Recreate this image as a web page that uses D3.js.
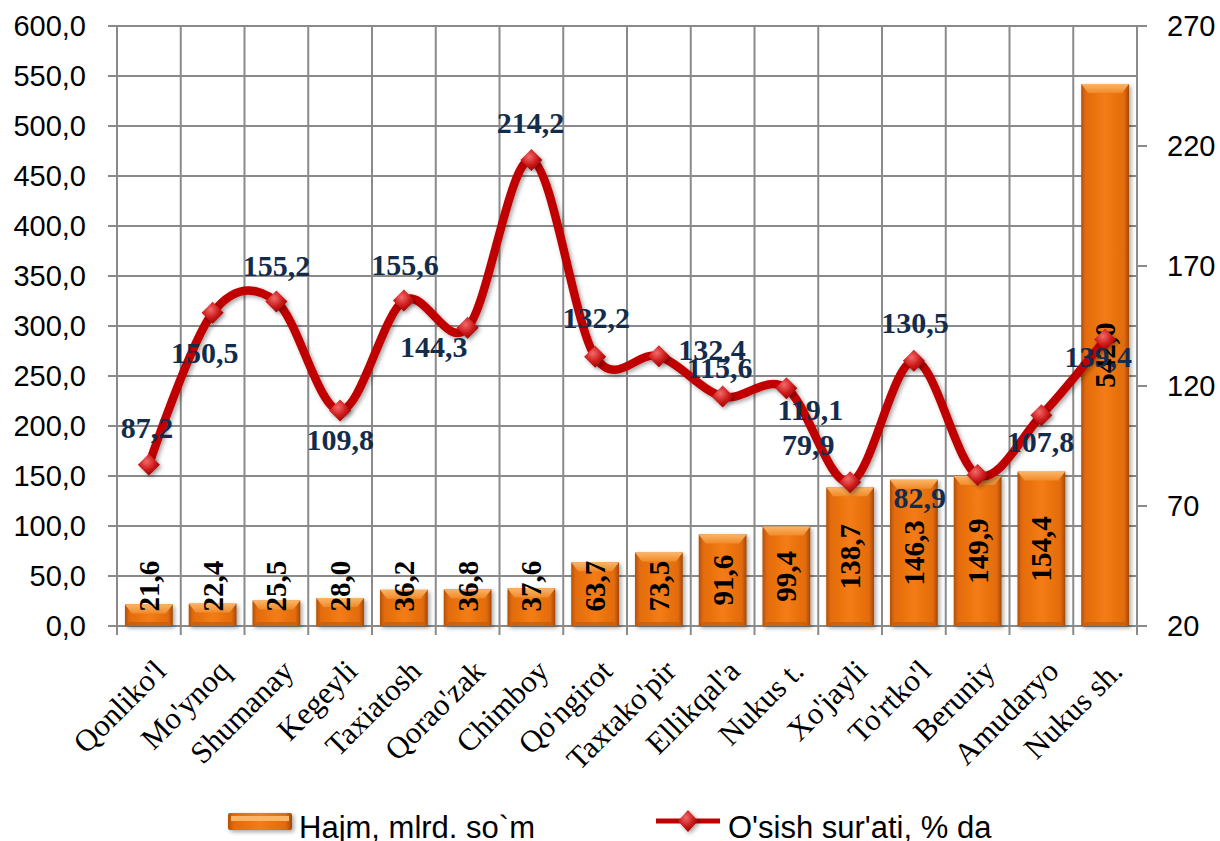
<!DOCTYPE html>
<html>
<head>
<meta charset="utf-8">
<script src="https://cdn.jsdelivr.net/npm/d3@7"></script>
<style>
  html, body { margin: 0; padding: 0; background: #fff; }
  svg { display: block; }
</style>
</head>
<body>
<svg id="chart" width="1220" height="841"></svg>
<script>
// ---- data ----
const categories = ["Qonliko'l", "Mo'ynoq", "Shumanay", "Kegeyli", "Taxiatosh", "Qorao'zak", "Chimboy", "Qo'ngirot", "Taxtako'pir", "Ellikqal'a", "Nukus t.", "Xo'jayli", "To'rtko'l", "Beruniy", "Amudaryo", "Nukus sh."];
const volume = [21.6, 22.4, 25.5, 28.0, 36.2, 36.8, 37.6, 63.7, 73.5, 91.6, 99.4, 138.7, 146.3, 149.9, 154.4, 542.0];
const growth = [87.2, 150.5, 155.2, 109.8, 155.6, 144.3, 214.2, 132.2, 132.4, 115.6, 119.1, 79.9, 130.5, 82.9, 107.8, 139.4];
const leftTicks = [0, 50, 100, 150, 200, 250, 300, 350, 400, 450, 500, 550, 600];
const rightTicks = [20, 70, 120, 170, 220, 270];
const seriesNames = ["Hajm, mlrd. so`m", "O'sish sur'ati, % da"];

// label placement offsets for line labels (relative to marker)
const labelDx = [-2, -8, 0, 0, 1, -34, -1, 1, 53, -3, 24, -42, 1, -58, -1, -7];
const labelDy = [-27, 50, -26, 40, -26, 29, -27, -29, 4, -19, 32, -27, -28, 33, 37, 28];

// ---- layout ----
const M = { left: 117, right: 1137, top: 26, bottom: 626 };
const svg = d3.select("#chart");
const defs = svg.append("defs");

const fmt = v => d3.format(".1f")(v).replace(".", ",");

const x = d3.scaleBand().domain(categories).range([M.left, M.right]).paddingInner(0.25).paddingOuter(0.125);
const yL = d3.scaleLinear().domain([0, 600]).range([M.bottom, M.top]);
const yR = d3.scaleLinear().domain([20, 270]).range([M.bottom, M.top]);

// gradients
const gBar = defs.append("linearGradient").attr("id", "gBar").attr("x1", "0").attr("x2", "1").attr("y1", "0").attr("y2", "0");
[["0%", "#b05005"], ["9%", "#e26b0c"], ["50%", "#f47c14"], ["90%", "#e26b0c"], ["100%", "#a24704"]].forEach(s => gBar.append("stop").attr("offset", s[0]).attr("stop-color", s[1]));
const gTop = defs.append("linearGradient").attr("id", "gTop").attr("x1", "0").attr("x2", "0").attr("y1", "0").attr("y2", "1");
[["0%", "#fbb567"], ["100%", "#f08a2a"]].forEach(s => gTop.append("stop").attr("offset", s[0]).attr("stop-color", s[1]));
const gMark = defs.append("radialGradient").attr("id", "gMark").attr("cx", "40%").attr("cy", "35%").attr("r", "70%");
[["0%", "#f26a6a"], ["55%", "#cc1a1a"], ["100%", "#8e0000"]].forEach(s => gMark.append("stop").attr("offset", s[0]).attr("stop-color", s[1]));
const shadow = defs.append("filter").attr("id", "shadow").attr("x", "-30%").attr("y", "-30%").attr("width", "160%").attr("height", "160%");
shadow.append("feDropShadow").attr("dx", 2).attr("dy", 2).attr("stdDeviation", 2).attr("flood-color", "#000").attr("flood-opacity", 0.35);

const gridColor = "#8a8a8a";

// ---- grid ----
const grid = svg.append("g").attr("stroke", gridColor).attr("stroke-width", 2);
leftTicks.forEach(t => {
  grid.append("line").attr("x1", M.left - 9).attr("x2", t === 600 ? M.right + 10 : M.right)
    .attr("y1", yL(t)).attr("y2", yL(t));
});
rightTicks.forEach(t => {
  grid.append("line").attr("x1", M.right).attr("x2", M.right + 10).attr("y1", yR(t)).attr("y2", yR(t));
});
const step = x.step();
d3.range(categories.length + 1).forEach(i => {
  const xx = M.left + i * step;
  grid.append("line").attr("x1", xx).attr("x2", xx).attr("y1", M.top).attr("y2", M.bottom + 9);
});

// ---- axes labels ----
const axisFont = "'Liberation Sans', Arial, sans-serif";
svg.append("g").selectAll("text").data(leftTicks).join("text")
  .attr("x", 86).attr("y", d => yL(d)).attr("dy", "0.36em")
  .attr("text-anchor", "end").attr("font-family", axisFont).attr("font-size", 29).attr("fill", "#000")
  .text(d => fmt(d));
svg.append("g").selectAll("text").data(rightTicks).join("text")
  .attr("x", 1167).attr("y", d => yR(d)).attr("dy", "0.36em")
  .attr("text-anchor", "start").attr("font-family", axisFont).attr("font-size", 29).attr("fill", "#000")
  .text(d => d);

const serif = "'Liberation Serif', 'Times New Roman', serif";
svg.append("g").selectAll("text").data(categories).join("text")
  .attr("transform", d => `translate(${x(d) + x.bandwidth() / 2 + 19},${673}) rotate(-45)`)
  .attr("text-anchor", "end").attr("font-family", serif).attr("font-size", 31).attr("fill", "#000")
  .text(d => d);

// ---- bars ----
const bars = svg.append("g");
const bw = x.bandwidth();
categories.forEach((c, i) => {
  const x0 = x(c), y0 = yL(volume[i]), h = yL(0) - y0;
  const g = bars.append("g").attr("filter", "url(#shadow)");
  g.append("rect").attr("x", x0).attr("y", y0).attr("width", bw).attr("height", h).attr("fill", "url(#gBar)");
  const bev = Math.min(9, h / 2);
  g.append("path").attr("d", `M${x0},${y0} L${x0 + bw},${y0} L${x0 + bw - 7},${y0 + bev} L${x0 + 7},${y0 + bev} Z`).attr("fill", "url(#gTop)");
  g.append("path").attr("d", `M${x0},${y0 + h} L${x0 + bw},${y0 + h} L${x0 + bw - 5},${y0 + h - 4} L${x0 + 5},${y0 + h - 4} Z`).attr("fill", "#c25c08").attr("opacity", 0.7);
});

// bar labels
svg.append("g").selectAll("text").data(categories).join("text")
  .attr("transform", (d, i) => {
    const cy = Math.min(yL(volume[i] / 2), yL(0) - 40);
    return `translate(${x(d) + bw / 2},${cy}) rotate(-90)`;
  })
  .attr("text-anchor", "middle").attr("dy", "0.34em")
  .attr("font-family", serif).attr("font-weight", "bold").attr("font-size", 29).attr("fill", "#000")
  .text((d, i) => fmt(volume[i]));

// ---- line ----
const pts = categories.map((c, i) => [x(c) + bw / 2, yR(growth[i])]);
svg.append("path")
  .attr("d", d3.line().curve(d3.curveCardinal.tension(0))(pts))
  .attr("fill", "none").attr("stroke", "#c00000").attr("stroke-width", 8.5)
  .attr("stroke-linejoin", "round").attr("stroke-linecap", "round")
  .attr("filter", "url(#shadow)");

const diamond = (cx, cy, rx, ry) => `M${cx},${cy - ry} L${cx + rx},${cy} L${cx},${cy + ry} L${cx - rx},${cy} Z`;
svg.append("g").selectAll("path").data(pts).join("path")
  .attr("d", d => diamond(d[0], d[1], 11, 11))
  .attr("fill", "url(#gMark)").attr("filter", "url(#shadow)");

// line labels
svg.append("g").selectAll("text").data(pts).join("text")
  .attr("x", (d, i) => d[0] + labelDx[i]).attr("y", (d, i) => d[1] + labelDy[i])
  .attr("text-anchor", "middle")
  .attr("font-family", serif).attr("font-weight", "bold").attr("font-size", 30).attr("fill", "#142c4c")
  .text((d, i) => fmt(growth[i]));

// ---- legend ----
const lg = svg.append("g");
const sw = lg.append("g").attr("filter", "url(#shadow)");
sw.append("rect").attr("x", 228).attr("y", 813).attr("width", 64).attr("height", 17).attr("rx", 2).attr("fill", "url(#gBar)");
sw.append("rect").attr("x", 231).attr("y", 816).attr("width", 58).attr("height", 5).attr("fill", "#fbb567");
lg.append("text").attr("x", 299).attr("y", 838).attr("font-family", axisFont).attr("font-size", 31).attr("fill", "#000").text(seriesNames[0]);

lg.append("line").attr("x1", 656).attr("x2", 720).attr("y1", 821).attr("y2", 821).attr("stroke", "#c00000").attr("stroke-width", 5);
lg.append("path").attr("d", diamond(688, 821, 10, 11)).attr("fill", "url(#gMark)").attr("filter", "url(#shadow)");
lg.append("text").attr("x", 728).attr("y", 838).attr("font-family", axisFont).attr("font-size", 31).attr("fill", "#000").text(seriesNames[1]);
</script>
</body>
</html>
